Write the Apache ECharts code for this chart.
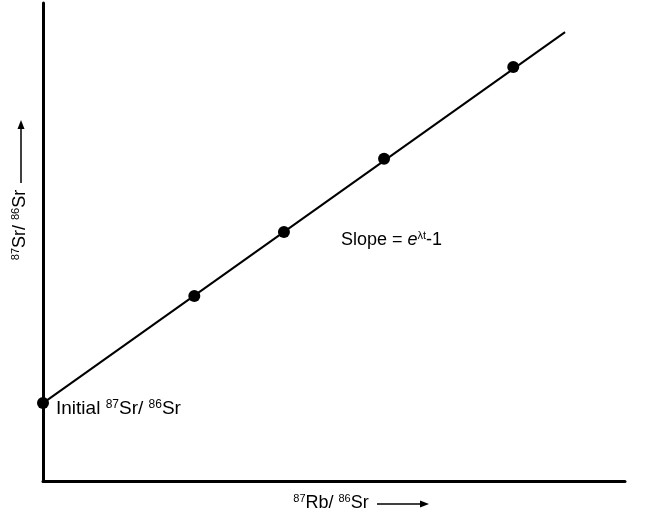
<!DOCTYPE html>
<html>
<head>
<meta charset="utf-8">
<script src="https://cdn.jsdelivr.net/npm/echarts@6/dist/echarts.min.js"></script>
<style>html,body{margin:0;padding:0;background:#fff}#c{width:657px;height:516px}</style>
</head>
<body>
<div id="c"></div>
<script>
// Isochron data (arbitrary units)
const pointX = [0, 26.0, 41.4, 58.6, 80.8];
const pointY = [16.3, 38.7, 52.1, 67.4, 86.6];
const lineX = [0, 89.7];
const lineY = [16.3, 93.9];
const xLabel = ['87', 'Rb/ ', '86', 'Sr'];
const yLabel = ['87', 'Sr/ ', '86', 'Sr'];
const initialLabel = ['Initial ', '87', 'Sr/ ', '86', 'Sr'];
const slopeLabel = ['Slope = ', 'e', 'λt', '-1'];

const FONT = 'Liberation Sans, Arial, sans-serif';
const rich = {
  n: {fontSize: 18, fontFamily: FONT, color: '#000', lineHeight: 20},
  s: {fontSize: 11, fontFamily: FONT, color: '#000', verticalAlign: 'top', lineHeight: 20},
  i: {fontSize: 18, fontFamily: FONT, color: '#000', fontStyle: 'italic', lineHeight: 20}
};
function isoText(parts) {
  return `{s|${parts[0]}}{n|${parts[1]}}{s|${parts[2]}}{n|${parts[3]}}`;
}

const chart = echarts.init(document.getElementById('c'), null, {renderer: 'canvas'});
const axisCommon = {
  type: 'value', min: 0, max: 100,
  axisLine: {show: true, onZero: false, lineStyle: {color: '#000', width: 3}},
  axisTick: {show: false}, axisLabel: {show: false}, splitLine: {show: false}
};
chart.setOption({
  animation: false,
  backgroundColor: '#fff',
  grid: {left: 43, right: 32, top: 3, bottom: 35},
  xAxis: Object.assign({}, axisCommon),
  yAxis: Object.assign({}, axisCommon),
  series: [
    {type: 'line', data: lineX.map((x, i) => [x, lineY[i]]), showSymbol: false,
     lineStyle: {color: '#000', width: 2}, z: 2},
    {type: 'scatter', data: pointX.map((x, i) => [x, pointY[i]]), symbolSize: 12,
     itemStyle: {color: '#000', opacity: 1}, z: 3}
  ],
  graphic: [
    {type: 'text', x: 331, y: 503, style: {text: isoText(xLabel), rich, align: 'center', verticalAlign: 'middle'}},
    {type: 'line', shape: {x1: 377, y1: 504, x2: 426, y2: 504}, style: {stroke: '#000', lineWidth: 1.5}},
    {type: 'polygon', shape: {points: [[429, 504], [420, 500.5], [420, 507.5]]}, style: {fill: '#000'}},
    {type: 'text', x: 20, y: 225, rotation: Math.PI / 2,
     style: {text: isoText(yLabel), rich, align: 'center', verticalAlign: 'middle'}},
    {type: 'line', shape: {x1: 21, y1: 183, x2: 21, y2: 124}, style: {stroke: '#000', lineWidth: 1.5}},
    {type: 'polygon', shape: {points: [[21, 120], [17.5, 129], [24.5, 129]]}, style: {fill: '#000'}},
    {type: 'text', x: 56, y: 409,
     style: {text: `{n|${initialLabel[0]}}{s|${initialLabel[1]}}{n|${initialLabel[2]}}{s|${initialLabel[3]}}{n|${initialLabel[4]}}`,
       rich: Object.assign({}, rich, {
         n: Object.assign({}, rich.n, {fontSize: 19}),
         s: Object.assign({}, rich.s, {fontSize: 12})
       }), align: 'left', verticalAlign: 'middle'}},
    {type: 'text', x: 341, y: 240,
     style: {text: `{n|${slopeLabel[0]}}{i|${slopeLabel[1]}}{s|${slopeLabel[2]}}{n|${slopeLabel[3]}}`,
       rich, align: 'left', verticalAlign: 'middle'}}
  ]
});
</script>
</body>
</html>
